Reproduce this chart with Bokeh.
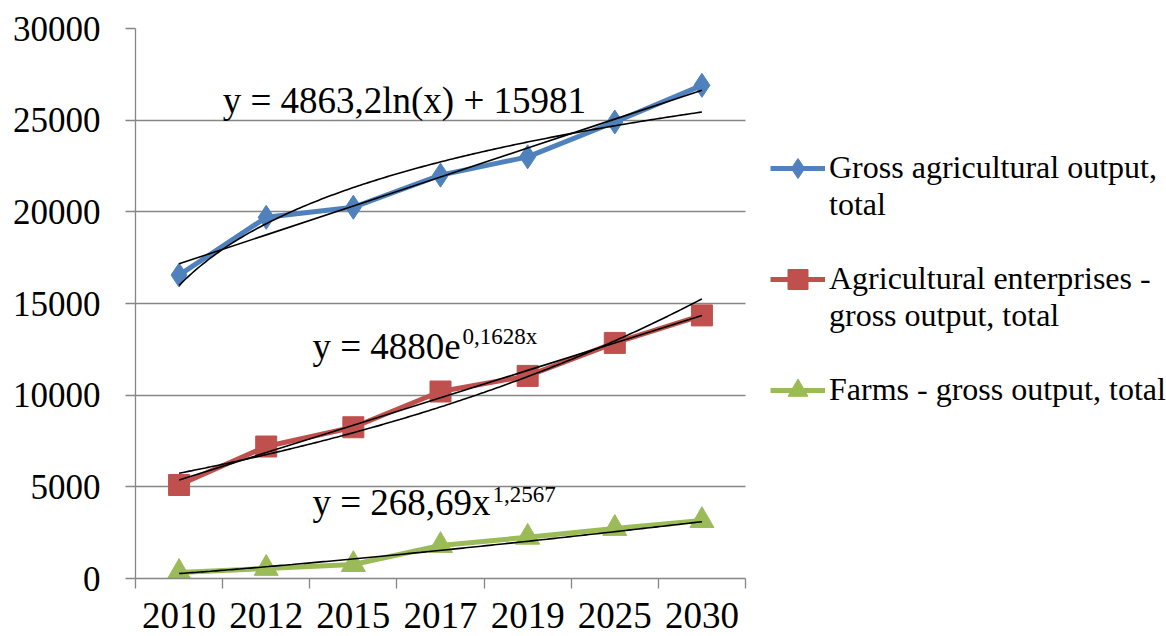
import numpy as np
from bokeh.plotting import figure
from bokeh.models import Range1d, FixedTicker, Legend, LegendItem, Label, Grid
from bokeh.embed import file_html
from bokeh.resources import INLINE

years = ["2010", "2012", "2015", "2017", "2019", "2025", "2030"]
gross_total = [16550, 19700, 20250, 22000, 23000, 24900, 26900]
enterprises = [5100, 7200, 8250, 10200, 11050, 12850, 14350]
farms = [330, 550, 760, 1800, 2250, 2730, 3160]
y_ticks = [0, 5000, 10000, 15000, 20000, 25000, 30000]

# trendline coefficients shown on the chart
log_a, log_b = 4863.2, 15981
exp_a, exp_b = 4880, 0.1628
pow_a, pow_b = 268.69, 1.2567

BLUE, RED, GREEN = "#4F81BD", "#C0504D", "#9BBB59"
GRID = "#868686"
FONT = "Liberation Serif"

W, H = 1166, 636
LEFT, TOP, BOTTOM = 135, 28, 58
PLOT_W = 610  # width of the category area; the legend lives to its right

n = len(years)
xs = list(range(1, n + 1))
xt = np.linspace(1, n, 200)
x_lo, x_hi = 0.5, n + 0.5
x_end = x_lo + n * (W - LEFT) / PLOT_W

p = figure(width=W, height=H, output_backend="svg", toolbar_location=None,
           x_range=Range1d(x_lo, x_end), y_range=Range1d(0, 30000))
p.min_border_left = LEFT
p.min_border_right = 0
p.min_border_top = TOP
p.min_border_bottom = BOTTOM
p.outline_line_color = None
p.background_fill_color = "white"
p.border_fill_color = "white"

p.xgrid.visible = False
p.ygrid.ticker = FixedTicker(ticks=y_ticks)
p.ygrid.grid_line_color = GRID
p.ygrid.grid_line_width = 1.3
if "cross_bounds" in Grid.properties():
    p.ygrid.cross_bounds = (x_lo, x_hi)
else:
    p.ygrid.visible = False
    p.segment(x0=[x_lo] * len(y_ticks), y0=y_ticks, x1=[x_hi] * len(y_ticks), y1=y_ticks,
              line_color=GRID, line_width=1.3)

p.yaxis.ticker = FixedTicker(ticks=y_ticks)
p.yaxis.major_label_text_font = FONT
p.yaxis.major_label_text_font_size = "35px"
p.yaxis.major_label_text_color = "black"
p.yaxis.major_tick_out = 10
p.yaxis.major_tick_in = 0
p.yaxis.minor_tick_line_color = None
p.yaxis.axis_line_color = GRID
p.yaxis.axis_line_width = 1.3
p.yaxis.major_tick_line_color = GRID
p.yaxis.major_tick_line_width = 1.3
p.yaxis.major_label_standoff = 25

p.xaxis.bounds = (x_lo, x_hi)
p.xaxis.ticker = FixedTicker(ticks=xs, minor_ticks=[i + 0.5 for i in range(0, n + 1)])
p.xaxis.major_label_overrides = {i: y for i, y in zip(xs, years)}
p.xaxis.major_label_text_font = FONT
p.xaxis.major_label_text_font_size = "37px"
p.xaxis.major_label_text_color = "black"
p.xaxis.major_tick_out = 0
p.xaxis.major_tick_in = 0
p.xaxis.major_tick_line_color = None
p.xaxis.minor_tick_out = 10
p.xaxis.minor_tick_in = 0
p.xaxis.minor_tick_line_color = GRID
p.xaxis.minor_tick_line_width = 1.3
p.xaxis.axis_line_color = GRID
p.xaxis.axis_line_width = 1.3
p.xaxis.major_label_standoff = 14

# series
l1 = p.line(xs, gross_total, line_color=BLUE, line_width=5)
s1 = p.scatter(xs, gross_total, marker="diamond", size=24, color=BLUE)
l2 = p.line(xs, enterprises, line_color=RED, line_width=5)
s2 = p.scatter(xs, enterprises, marker="square", size=21, color=RED)
l3 = p.line(xs, farms, line_color=GREEN, line_width=5)
s3 = p.scatter(xs, farms, marker="triangle", size=24, color=GREEN)

# trendlines
k1, c1 = np.polyfit(xs, gross_total, 1)
k2, c2 = np.polyfit(xs, enterprises, 1)
p.line(xs, [k1 * x + c1 for x in xs], line_color="black", line_width=1.6)
p.line(xt, log_a * np.log(xt) + log_b, line_color="black", line_width=1.6)
p.line(xs, [k2 * x + c2 for x in xs], line_color="black", line_width=1.6)
p.line(xt, exp_a * np.exp(exp_b * xt), line_color="black", line_width=1.6)
p.line(xt, pow_a * xt ** pow_b, line_color="black", line_width=1.6)

# equations
def eq(x, y, text, size, dx=0, dy=0):
    p.add_layout(Label(x=x, y=y, text=text, x_offset=dx, y_offset=dy,
                       text_font=FONT, text_font_size=size, text_color="black",
                       text_baseline="alphabetic"))

eq(1.5, 26100, "y = 4863,2ln(x) + 15981", "37px")
eq(2.53, 12650, "y = 4880e", "37px")
eq(2.53, 12650, "0,1628x", "23px", dx=150, dy=10)
eq(2.53, 4150, "y = 268,69x", "37px")
eq(2.53, 4150, "1,2567", "23px", dx=180, dy=8)

legend = Legend(items=[
    LegendItem(label="\nGross agricultural output,\ntotal", renderers=[l1, s1]),
    LegendItem(label="\nAgricultural enterprises -\ngross output, total", renderers=[l2, s2]),
    LegendItem(label="\nFarms - gross output, total\n ", renderers=[l3, s3]),
], location=(635, 133))
legend.label_text_font = FONT
legend.label_text_font_size = "32px"
legend.label_text_color = "black"
legend.label_text_line_height = 1.07
legend.glyph_width = 55
legend.glyph_height = 50
legend.label_standoff = 4
legend.spacing = 0
legend.padding = 0
legend.margin = 0
legend.border_line_color = None
legend.background_fill_alpha = 0
p.add_layout(legend)

open("out.html", "w").write(file_html(p, INLINE))
